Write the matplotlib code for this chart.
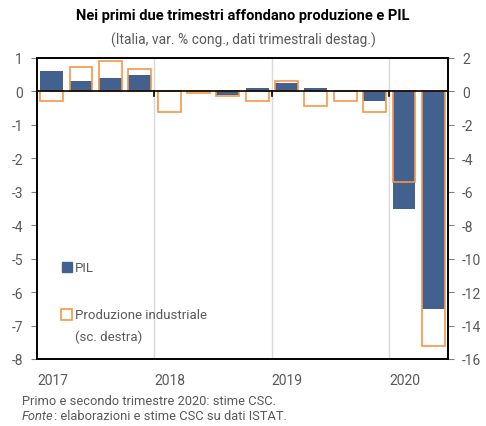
import matplotlib
matplotlib.use("Agg")
import matplotlib.pyplot as plt
from matplotlib.patches import Rectangle
import numpy as np

plt.rcParams['font.family'] = ['Roboto', 'DejaVu Sans']

quarters = ["2017Q1", "2017Q2", "2017Q3", "2017Q4",
            "2018Q1", "2018Q2", "2018Q3", "2018Q4",
            "2019Q1", "2019Q2", "2019Q3", "2019Q4",
            "2020Q1", "2020Q2"]
pil = [0.6, 0.3, 0.4, 0.5, 0.05, 0.0, -0.1, 0.1, 0.25, 0.1, 0.05, -0.3, -3.5, -6.5]
prod_ind = [-0.55, 1.45, 1.8, 1.35, -1.25, -0.1, -0.25, -0.6, 0.6, -0.85, -0.6, -1.2, -5.4, -15.2]
years = ["2017", "2018", "2019", "2020"]
left_ticks = [1, 0, -1, -2, -3, -4, -5, -6, -7, -8]
right_ticks = [2, 0, -2, -4, -6, -8, -10, -12, -14, -16]

BLUE = "#43618f"
ORANGE = "#f79646"
GRAY = "#595959"

fig = plt.figure(figsize=(4.86, 4.27), dpi=100)
ax = fig.add_axes([37/486, 1-360/427, (448-37)/486, (360-59)/427])
ax2 = ax.twinx()

x = np.arange(len(quarters))
w = 0.78
ax.bar(x, pil, width=w, color=BLUE, zorder=2)
ax2.bar(x, prod_ind, width=w, facecolor="none", edgecolor=ORANGE, linewidth=1.2, zorder=2)

ax.set_xlim(-0.5, len(quarters) - 0.5)
ax.set_ylim(-8, 1)
ax2.set_ylim(-16, 2)
ax.set_yticks(left_ticks)
ax.set_yticklabels([str(t) for t in left_ticks])
ax2.set_yticks(right_ticks)
ax2.set_yticklabels([str(t) for t in right_ticks])

# year boundaries
bounds = np.arange(0, len(quarters), 4) - 0.5
for b in bounds[1:]:
    ax.axvline(b, color="#d9d9d9", linewidth=1.0, zorder=0)
ax.set_xticks(bounds)
ax.set_xticklabels(years, ha="left")
ax.tick_params(axis="x", length=0, pad=10, labelsize=10, labelcolor=GRAY)
ax.tick_params(axis="y", length=4, width=0.8, color="#808080", labelsize=10, labelcolor=GRAY, pad=6)
ax2.tick_params(axis="y", length=4, width=0.8, color="#808080", labelsize=10, labelcolor=GRAY, pad=6)

# zero line and small ticks at year boundaries
ax2.axhline(0, color="black", linewidth=1.2, zorder=5)
for b in bounds[1:]:
    ax2.plot([b, b], [0, -0.25], color="black", linewidth=1.2, zorder=5)

for a in (ax, ax2):
    for s in a.spines.values():
        s.set_color("black")
        s.set_linewidth(1.2)

# legend (manual)
ax2.add_patch(Rectangle((0.061, 0.290), 0.024, 0.033, transform=ax2.transAxes,
                        facecolor=BLUE, edgecolor=BLUE, zorder=6))
ax2.text(0.092, 0.304, "PIL", transform=ax2.transAxes, va="center", ha="left",
         fontsize=9.5, color=GRAY, zorder=6)
ax2.add_patch(Rectangle((0.059, 0.130), 0.026, 0.035, transform=ax2.transAxes,
                        facecolor="white", edgecolor=ORANGE, linewidth=1.2, zorder=6))
ax2.text(0.092, 0.147, "Produzione industriale", transform=ax2.transAxes, va="center",
         ha="left", fontsize=9.5, color=GRAY, zorder=6)
ax2.text(0.092, 0.077, "(sc. destra)", transform=ax2.transAxes, va="center",
         ha="left", fontsize=9.5, color=GRAY, zorder=6)

fig.text(0.5, 1-16/427, "Nei primi due trimestri affondano produzione e PIL",
         ha="center", va="center", fontsize=10.5, fontweight="bold", color="black")
fig.text(0.5, 1-40/427, "(Italia, var. % cong., dati trimestrali destag.)",
         ha="center", va="center", fontsize=10, color=GRAY)

fig.text(22/486, 1-402/427, "Primo e secondo trimestre 2020: stime CSC.",
         ha="left", va="center", fontsize=9.3, color=GRAY)
t_fonte = fig.text(22/486, 1-420/427, "Fonte", ha="left", va="baseline",
                   fontsize=9.3, color=GRAY, style="italic")
fig.canvas.draw()
fig.text(0, 0, ": elaborazioni e stime CSC su dati ISTAT.", fontsize=9.3, color=GRAY,
         ha="left", va="baseline",
         transform=matplotlib.transforms.offset_copy(
             matplotlib.transforms.blended_transform_factory(
                 matplotlib.transforms.IdentityTransform(), fig.transFigure), fig=fig, x=0, y=0))
# reposition second fragment right after the italic word
bb = t_fonte.get_window_extent(renderer=fig.canvas.get_renderer())
frag = fig.texts[-1]
frag.set_transform(matplotlib.transforms.IdentityTransform())
y_base = fig.transFigure.transform((0, 1-420/427))[1]
frag.set_position((bb.x1, y_base))

fig.savefig("out.png", dpi=100, facecolor="white")
